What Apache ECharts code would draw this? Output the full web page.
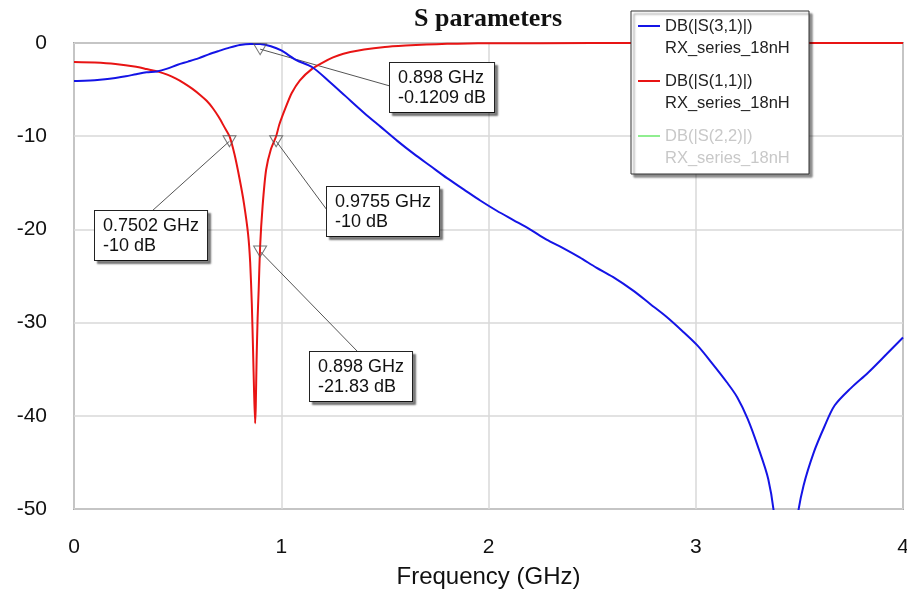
<!DOCTYPE html>
<html>
<head>
<meta charset="utf-8">
<script src="https://cdn.jsdelivr.net/npm/echarts@6/dist/echarts.min.js"></script>
<style>
html,body{margin:0;padding:0;background:#fff;}
#c{width:907px;height:592px;}
</style>
</head>
<body>
<div id="c"></div>
<script>
// ---- data ----
const seriesNames = ['DB(|S(3,1)|)', 'DB(|S(1,1)|)', 'DB(|S(2,2)|)'];
const seriesSub = 'RX_series_18nH';
const xTicks = [0, 1, 2, 3, 4];
const yTicks = [0, -10, -20, -30, -40, -50];

const freqS31 = [0, 0.05, 0.1, 0.15, 0.2, 0.25, 0.3, 0.35, 0.4, 0.45, 0.5, 0.55, 0.6, 0.65, 0.7, 0.75, 0.8, 0.85, 0.898, 0.95, 1.0, 1.07, 1.15, 1.23, 1.31, 1.4, 1.48, 1.56, 1.64, 1.72, 1.8, 1.88, 1.96, 2.04, 2.12, 2.2, 2.28, 2.36, 2.44, 2.52, 2.6, 2.7, 2.78, 2.86, 2.94, 3.01, 3.08, 3.15, 3.2, 3.25, 3.3, 3.35, 3.38, 3.42, 3.45, 3.49, 3.52, 3.57, 3.62, 3.67, 3.75, 3.83, 3.92, 4.0];
const dbS31 = [-4.07, -4.05, -4.0, -3.9, -3.75, -3.57, -3.35, -3.15, -3.05, -2.75, -2.33, -2.0, -1.65, -1.22, -0.85, -0.5, -0.22, -0.1, -0.12, -0.35, -0.8, -1.8, -2.6, -4.1, -5.7, -7.5, -9.0, -10.5, -11.9, -13.2, -14.5, -15.7, -16.9, -18.0, -19.0, -20.0, -21.1, -22.0, -23.0, -24.1, -25.1, -26.6, -28.0, -29.4, -31.0, -32.5, -34.4, -36.4, -38.0, -40.3, -43.3, -46.8, -51, -62, -60, -51, -47.5, -43.9, -41.2, -38.9, -37.0, -35.4, -33.4, -31.6];

const freqS11 = [0, 0.1, 0.2, 0.3, 0.35, 0.41, 0.45, 0.49, 0.53, 0.57, 0.61, 0.64, 0.67, 0.7, 0.725, 0.7502, 0.775, 0.8, 0.82, 0.84, 0.85, 0.858, 0.864, 0.869, 0.874, 0.877, 0.881, 0.886, 0.891, 0.898, 0.91, 0.927, 0.95, 0.9755, 0.99, 1.02, 1.05, 1.09, 1.15, 1.2, 1.25, 1.3, 1.4, 1.5, 1.6, 1.7, 1.8, 1.9, 2.0, 2.5, 3.0, 4.0];
const dbS11 = [-2.05, -2.1, -2.25, -2.55, -2.8, -3.1, -3.4, -3.8, -4.3, -4.9, -5.6, -6.2, -7.0, -8.0, -9.0, -10, -12.0, -14.7, -17.2, -20.5, -23.5, -28, -33, -37.5, -40.8, -39, -34, -29.5, -26.5, -21.83, -17.5, -13.6, -11.4, -10, -8.8, -7.0, -5.4, -4.0, -2.75, -2.1, -1.55, -1.15, -0.7, -0.42, -0.27, -0.16, -0.09, -0.05, -0.03, -0.01, 0, 0];

const markerFreq = [0.898, 0.7502, 0.9755, 0.898];
const markerDb = [-0.1209, -10, -10, -21.83];

// ---- style constants (positions of callout boxes, px) ----
const calloutPos = [[390, 63], [95, 211], [327, 187], [310, 352]];
const calloutAttach = [[0, 23], [57, 0], [0, 23], [48, 0]];

const FONT = "'Liberation Sans', Arial, sans-serif";
const zip = (a, b) => a.map((v, i) => [v, b[i]]);

const chart = echarts.init(document.getElementById('c'), null, {renderer: 'canvas'});

const iconPath = 'path://M0,0h0.01v0.01h-0.01z M0,11H22V13H0z M0,46h0.01v0.01h-0.01z';

chart.setOption({
  animation: false,
  backgroundColor: '#fff',
  title: {
    text: 'S parameters',
    left: 488, top: 6, padding: 0,
    textAlign: 'center',
    textStyle: {fontFamily: "'Liberation Serif', 'Times New Roman', serif", fontWeight: 'bold', fontSize: 26, color: '#111'}
  },
  legend: {
    orient: 'vertical',
    left: 638, top: 14, padding: 0,
    itemWidth: 22, itemHeight: 46, itemGap: 9,
    icon: iconPath,
    selectedMode: false,
    z: 20,
    data: [
      {name: seriesNames[0]},
      {name: seriesNames[1]},
      {name: seriesNames[2], textStyle: {color: '#c8c8c8'}}
    ],
    formatter: n => n + '\n' + seriesSub,
    textStyle: {fontFamily: FONT, fontSize: 16.5, lineHeight: 22, color: '#222'}
  },
  grid: {left: 74, right: 4, top: 43, bottom: 83, show: true, borderColor: '#666', borderWidth: 1.5, backgroundColor: 'transparent', containLabel: false, outerBoundsMode: 'none'},
  xAxis: {
    type: 'value', min: xTicks[0], max: xTicks[xTicks.length - 1], interval: 1,
    name: 'Frequency (GHz)', nameLocation: 'middle', nameGap: 56,
    nameTextStyle: {fontFamily: FONT, fontSize: 24, color: '#111'},
    axisLine: {show: false}, axisTick: {show: false},
    axisLabel: {fontFamily: FONT, fontSize: 21, color: '#111', margin: 28},
    splitLine: {show: true, lineStyle: {color: '#d9d9d9', width: 1.5}}
  },
  yAxis: {
    type: 'value', min: yTicks[yTicks.length - 1], max: yTicks[0], interval: 10,
    axisLine: {show: false}, axisTick: {show: false},
    axisLabel: {fontFamily: FONT, fontSize: 21, color: '#111', margin: 27, padding: [9, 0, 0, 0]},
    splitLine: {show: true, lineStyle: {color: '#d9d9d9', width: 1.5}}
  },
  series: [
    {name: seriesNames[0], type: 'line', data: zip(freqS31, dbS31), showSymbol: false, symbol: 'none', smooth: 0.3, color: '#1414e6', lineStyle: {width: 2, color: '#1414e6'}, clip: true, z: 3},
    {name: seriesNames[1], type: 'line', data: zip(freqS11, dbS11), showSymbol: false, symbol: 'none', smooth: 0.2, color: '#e81414', lineStyle: {width: 2, color: '#e81414'}, clip: true, z: 2},
    {name: seriesNames[2], type: 'line', data: [], showSymbol: false, symbol: 'none', color: '#90ee90', lineStyle: {width: 2, color: '#90ee90'}},
    {
      name: 'markerSymbols', type: 'scatter', data: zip(markerFreq, markerDb),
      symbol: 'triangle', symbolRotate: 180, symbolSize: [13, 11], symbolOffset: [0, 5],
      itemStyle: {color: 'rgba(255,255,255,0)', borderColor: '#555', borderWidth: 1},
      z: 6, clip: false, silent: true
    },
    {
      name: 'markerLabels', type: 'scatter', data: zip(markerFreq, markerDb),
      symbol: 'circle', symbolSize: 0.01,
      itemStyle: {color: '#fff', opacity: 1},
      z: 7, clip: false, silent: true,
      label: {
        show: true,
        formatter: p => p.value[0] + ' GHz\n' + p.value[1] + ' dB',
        fontFamily: FONT, fontSize: 18, lineHeight: 20, color: '#111',
        backgroundColor: '#fff', borderColor: '#222', borderWidth: 1,
        padding: [5, 8, 4, 8],
        shadowColor: 'rgba(0,0,0,0.45)', shadowOffsetX: 3, shadowOffsetY: 3, shadowBlur: 2
      },
      labelLayout: p => ({x: calloutPos[p.dataIndex][0], y: calloutPos[p.dataIndex][1], align: 'left', verticalAlign: 'top'}),
      labelLine: {show: false}
    }
  ]
});

// leader lines and legend box (line start points converted through the chart's scales)
const elements = [{
  type: 'rect', z: 10,
  shape: {x: 631, y: 11, width: 178, height: 163},
  style: {fill: '#fff', stroke: '#333', lineWidth: 1, shadowColor: 'rgba(0,0,0,0.45)', shadowOffsetX: 3, shadowOffsetY: 3, shadowBlur: 2}
}];
markerFreq.forEach((f, i) => {
  const p = chart.convertToPixel({gridIndex: 0}, [f, markerDb[i]]);
  elements.push({
    type: 'line', z: 1,
    shape: {x1: p[0], y1: p[1] + 5, x2: calloutPos[i][0] + calloutAttach[i][0], y2: calloutPos[i][1] + calloutAttach[i][1]},
    style: {stroke: '#555', lineWidth: 1}
  });
});
chart.setOption({graphic: {elements: elements}});
</script>
</body>
</html>
